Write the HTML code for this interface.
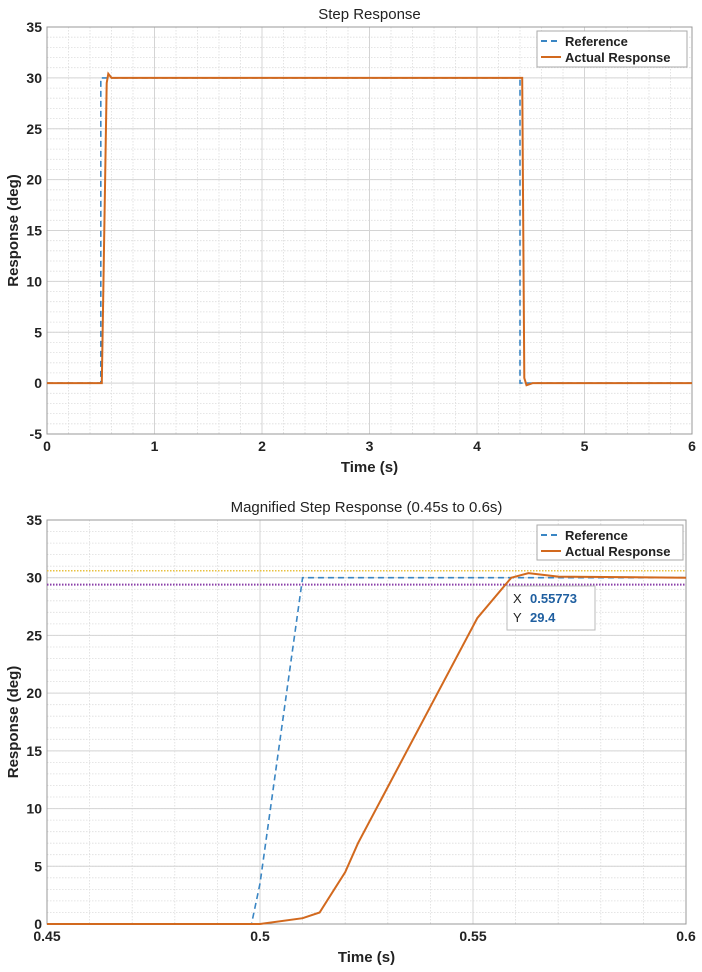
<!DOCTYPE html>
<html><head><meta charset="utf-8"><style>
body{margin:0;background:#fff;}
svg{display:block;font-family:"Liberation Sans",sans-serif;}
</style></head><body>
<svg id="s" width="702" height="972" xmlns="http://www.w3.org/2000/svg"></svg>
<script>
const s=document.getElementById('s');let h='';
function ax(L,R,T,B,x0,x1,xmaj,xmin,y0,y1,ymaj,ymin,xl,yl,title,titleY,xlabY){
 const X=t=>L+(t-x0)/(x1-x0)*(R-L), Y=v=>B-(v-y0)/(y1-y0)*(B-T);
 h+=`<rect x="${L}" y="${T}" width="${R-L}" height="${B-T}" fill="#fff"/>`;
 for(let t=x0;t<=x1+1e-9;t+=xmin){const x=X(t).toFixed(1);h+=`<line x1="${x}" y1="${T}" x2="${x}" y2="${B}" stroke="#ddd" stroke-width="0.8" stroke-dasharray="1.5,1.5"/>`;}
 for(let v=y0;v<=y1+1e-9;v+=ymin){const y=Y(v).toFixed(1);h+=`<line x1="${L}" y1="${y}" x2="${R}" y2="${y}" stroke="#ddd" stroke-width="0.8" stroke-dasharray="1.5,1.5"/>`;}
 for(let t=x0;t<=x1+1e-9;t+=xmaj){const x=X(t).toFixed(1);h+=`<line x1="${x}" y1="${T}" x2="${x}" y2="${B}" stroke="#d4d4d4" stroke-width="1"/>`;h+=`<text x="${x}" y="${B+17}" font-size="14" font-weight="bold" text-anchor="middle" fill="#222">${xl(t)}</text>`;}
 for(let v=y0;v<=y1+1e-9;v+=ymaj){const y=Y(v).toFixed(1);h+=`<line x1="${L}" y1="${y}" x2="${R}" y2="${y}" stroke="#d4d4d4" stroke-width="1"/>`;h+=`<text x="${L-5}" y="${(+y+5)}" font-size="14" font-weight="bold" text-anchor="end" fill="#222">${v}</text>`;}
 h+=`<rect x="${L}" y="${T}" width="${R-L}" height="${B-T}" fill="none" stroke="#999" stroke-width="1"/>`;
 h+=`<text x="${(L+R)/2}" y="${titleY}" font-size="15" text-anchor="middle" fill="#222">${title}</text>`;
 h+=`<text x="${(L+R)/2}" y="${xlabY}" font-size="15" font-weight="bold" text-anchor="middle" fill="#222">Time (s)</text>`;
 h+=`<text transform="translate(18,${(T+B)/2}) rotate(-90)" font-size="15" font-weight="bold" text-anchor="middle" fill="#222">Response (deg)</text>`;
 return [X,Y];
}
function pl(X,Y,pts,style){h+=`<polyline fill="none" points="${pts.map(p=>X(p[0]).toFixed(1)+','+Y(p[1]).toFixed(1)).join(' ')}" ${style}/>`;}
function legend(x,y,w,hh){
 h+=`<rect x="${x}" y="${y}" width="${w}" height="${hh}" fill="#fff" stroke="#aaa"/>`;
 h+=`<line x1="${x+4}" y1="${y+10}" x2="${x+24}" y2="${y+10}" stroke="#3a86c4" stroke-width="2" stroke-dasharray="6,4"/>`;
 h+=`<text x="${x+28}" y="${y+15}" font-size="13" font-weight="bold" fill="#222">Reference</text>`;
 h+=`<line x1="${x+4}" y1="${y+26}" x2="${x+24}" y2="${y+26}" stroke="#d2691e" stroke-width="2"/>`;
 h+=`<text x="${x+28}" y="${y+31}" font-size="13" font-weight="bold" fill="#222">Actual Response</text>`;
}
let [X,Y]=ax(47,692,27,434,0,6,1,0.2,-5,35,5,1,t=>Math.round(t),'Response','Step Response',19,472);
pl(X,Y,[[0,0],[0.5,0],[0.5,30],[4.4,30],[4.4,0],[6,0]],'stroke="#3a86c4" stroke-width="1.6" stroke-dasharray="6,4"');
pl(X,Y,[[0,0],[0.51,0],[0.555,29.5],[0.57,30.4],[0.6,30],[4.42,30],[4.44,0.5],[4.46,-0.2],[4.52,0],[6,0]],'stroke="#d2691e" stroke-width="2"');
legend(537,31,150,36);
[X,Y]=ax(47,686,520,924,0.45,0.6,0.05,0.01,0,35,5,1,t=>({0.45:'0.45',0.5:'0.5',0.55:'0.55',0.6:'0.6'})[Math.round(t*100)/100]||'','Response','Magnified Step Response (0.45s to 0.6s)',512,962);
h+=`<line x1="47" y1="${Y(30.6)}" x2="686" y2="${Y(30.6)}" stroke="#e8c040" stroke-width="1.5" stroke-dasharray="1.5,1.5"/>`;
h+=`<line x1="47" y1="${Y(29.4)}" x2="686" y2="${Y(29.4)}" stroke="#8a3fa8" stroke-width="2" stroke-dasharray="1.5,1.5"/>`;
pl(X,Y,[[0.45,0],[0.498,0],[0.5,3.5],[0.51,30],[0.6,30]],'stroke="#3a86c4" stroke-width="1.6" stroke-dasharray="6,4"');
pl(X,Y,[[0.45,0],[0.50,0],[0.51,0.5],[0.514,1],[0.52,4.5],[0.523,7],[0.551,26.5],[0.559,30],[0.563,30.4],[0.57,30.1],[0.6,30]],'stroke="#d2691e" stroke-width="2"');
legend(537,525,146,35);
h+=`<rect x="507" y="586" width="88" height="44" fill="#fff" stroke="#bbb"/>`;
h+=`<text x="513" y="603" font-size="13" fill="#222">X</text><text x="530" y="603" font-size="13" font-weight="bold" fill="#1f5fa0">0.55773</text>`;
h+=`<text x="513" y="622" font-size="13" fill="#222">Y</text><text x="530" y="622" font-size="13" font-weight="bold" fill="#1f5fa0">29.4</text>`;
s.innerHTML=h;
</script>
</body></html>
